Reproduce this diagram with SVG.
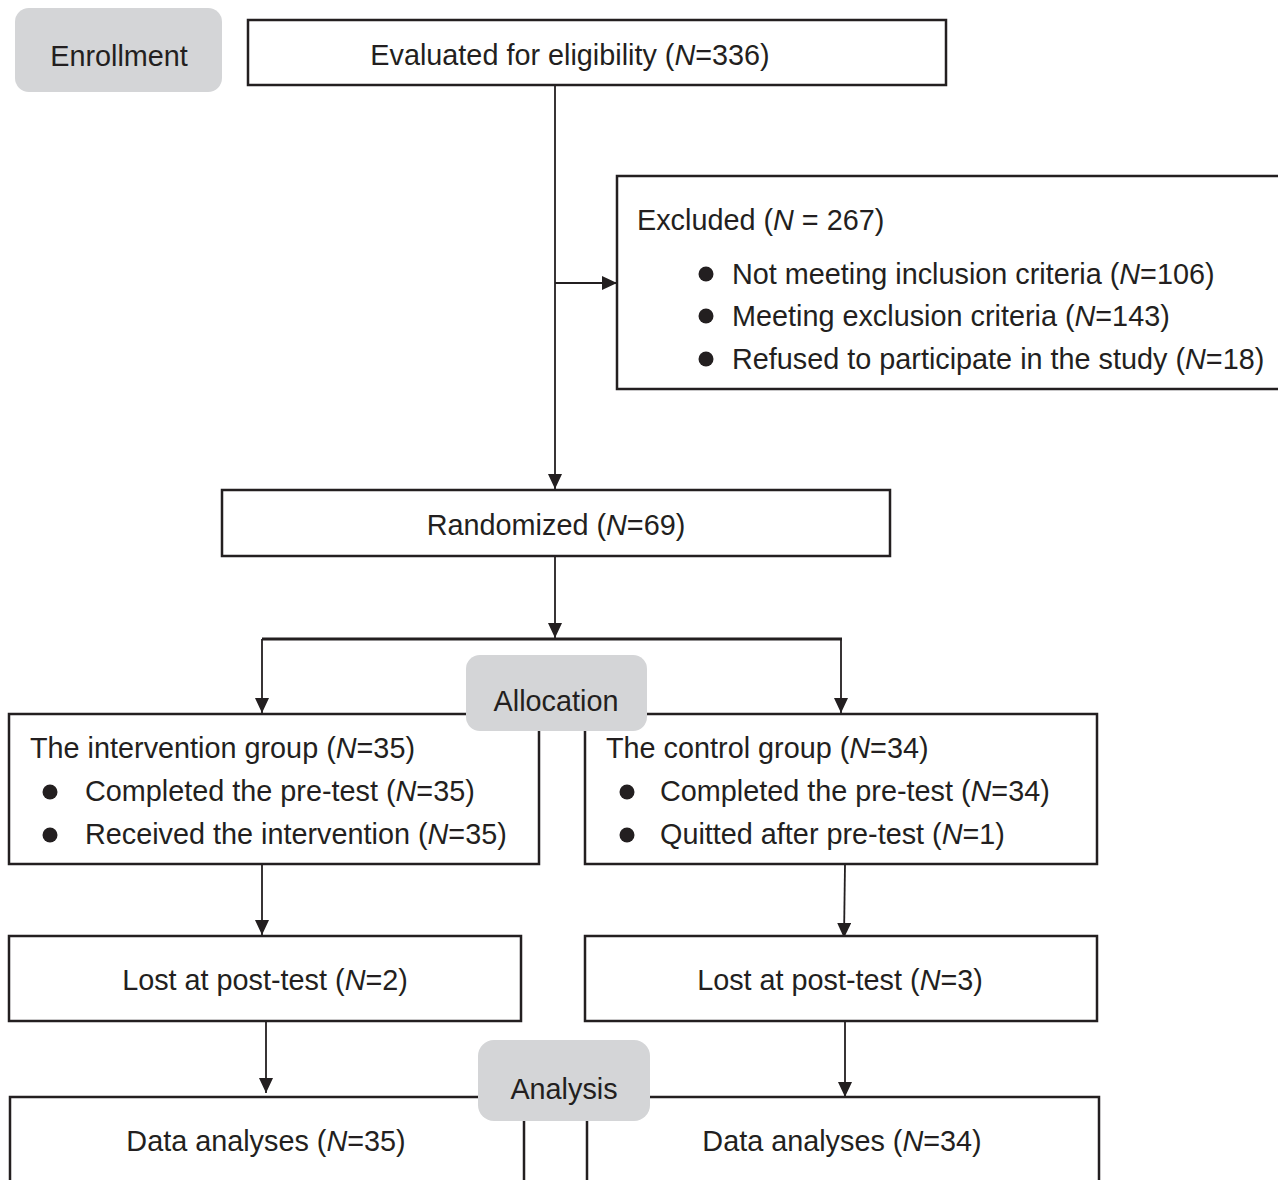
<svg xmlns="http://www.w3.org/2000/svg" width="1278" height="1180" viewBox="0 0 1278 1180">
<defs>
<marker id="arr" markerWidth="15" markerHeight="14" refX="15" refY="7" orient="auto" markerUnits="userSpaceOnUse" viewBox="0 0 15 14">
<path d="M0,0 L15,7 L0,14 z" fill="#231f20"/>
</marker>
<style>
.box{fill:#fff;stroke:#231f20;stroke-width:2.5}
.stage{fill:#d4d5d7;stroke:none}
.t{font-family:"Liberation Sans",Arial,sans-serif;font-size:28.8px;fill:#231f20}
.c{text-anchor:middle}
.ln{fill:none;stroke:#231f20;stroke-width:1.8}
.dot{fill:#231f20}
</style>
</defs>
<rect width="1278" height="1180" fill="#fff"/>

<g id="connectors">
<line class="ln" x1="555" y1="85" x2="555" y2="489" marker-end="url(#arr)"/>
<line class="ln" x1="555" y1="283" x2="617" y2="283" marker-end="url(#arr)"/>
<line class="ln" x1="555" y1="556" x2="555" y2="638" marker-end="url(#arr)"/>
<line x1="262" y1="639" x2="842" y2="639" stroke="#231f20" stroke-width="3"/>
<line class="ln" x1="262" y1="639" x2="262" y2="713" marker-end="url(#arr)"/>
<line class="ln" x1="841" y1="639" x2="841" y2="713" marker-end="url(#arr)"/>
<line class="ln" x1="262" y1="864" x2="262" y2="935" marker-end="url(#arr)"/>
<line class="ln" x1="845" y1="864" x2="844" y2="938" marker-end="url(#arr)"/>
<line class="ln" x1="266" y1="1021" x2="266" y2="1093" marker-end="url(#arr)"/>
<line class="ln" x1="845" y1="1021" x2="845" y2="1097" marker-end="url(#arr)"/>
</g>

<g id="enrollment">
<rect class="stage" x="15" y="8" width="207" height="84" rx="14"/>
<text class="t c" x="119" y="66">Enrollment</text>
</g>

<g id="evaluated">
<rect class="box" x="248" y="20" width="698" height="65"/>
<text class="t c" x="570" y="65">Evaluated for eligibility (<tspan font-style="italic">N</tspan>=336)</text>
</g>

<g id="excluded">
<rect class="box" x="617" y="176" width="675" height="213"/>
<text class="t" x="637" y="230">Excluded (<tspan font-style="italic">N</tspan> = 267)</text>
<circle class="dot" cx="706" cy="274" r="7.5"/>
<text class="t" x="732" y="284">Not meeting inclusion criteria (<tspan font-style="italic">N</tspan>=106)</text>
<circle class="dot" cx="706" cy="316" r="7.5"/>
<text class="t" x="732" y="326">Meeting exclusion criteria (<tspan font-style="italic">N</tspan>=143)</text>
<circle class="dot" cx="706" cy="359" r="7.5"/>
<text class="t" x="732" y="369">Refused to participate in the study (<tspan font-style="italic">N</tspan>=18)</text>
</g>

<g id="randomized">
<rect class="box" x="222" y="490" width="668" height="66"/>
<text class="t c" x="556" y="535">Randomized (<tspan font-style="italic">N</tspan>=69)</text>
</g>

<g id="intervention">
<rect class="box" x="9" y="714" width="530" height="150"/>
<text class="t" x="30" y="758">The intervention group (<tspan font-style="italic">N</tspan>=35)</text>
<circle class="dot" cx="50" cy="792" r="7.5"/>
<text class="t" x="85" y="801">Completed the pre-test (<tspan font-style="italic">N</tspan>=35)</text>
<circle class="dot" cx="50" cy="835" r="7.5"/>
<text class="t" x="85" y="844">Received the intervention (<tspan font-style="italic">N</tspan>=35)</text>
</g>

<g id="control">
<rect class="box" x="585" y="714" width="512" height="150"/>
<text class="t" x="606" y="758">The control group (<tspan font-style="italic">N</tspan>=34)</text>
<circle class="dot" cx="627" cy="792" r="7.5"/>
<text class="t" x="660" y="801">Completed the pre-test (<tspan font-style="italic">N</tspan>=34)</text>
<circle class="dot" cx="627" cy="835" r="7.5"/>
<text class="t" x="660" y="844">Quitted after pre-test (<tspan font-style="italic">N</tspan>=1)</text>
</g>

<g id="allocation">
<rect class="stage" x="466" y="655" width="181" height="76" rx="14"/>
<text class="t c" x="556" y="711">Allocation</text>
</g>

<g id="lost-left">
<rect class="box" x="9" y="936" width="512" height="85"/>
<text class="t c" x="265" y="990">Lost at post-test (<tspan font-style="italic">N</tspan>=2)</text>
</g>

<g id="lost-right">
<rect class="box" x="585" y="936" width="512" height="85"/>
<text class="t c" x="840" y="990">Lost at post-test (<tspan font-style="italic">N</tspan>=3)</text>
</g>

<g id="data-left">
<rect class="box" x="10" y="1097" width="514" height="100"/>
<text class="t c" x="266" y="1151">Data analyses (<tspan font-style="italic">N</tspan>=35)</text>
</g>

<g id="data-right">
<rect class="box" x="587" y="1097" width="512" height="100"/>
<text class="t c" x="842" y="1151">Data analyses (<tspan font-style="italic">N</tspan>=34)</text>
</g>

<g id="analysis">
<rect class="stage" x="478" y="1040" width="172" height="81" rx="16"/>
<text class="t c" x="564" y="1099">Analysis</text>
</g>
</svg>
